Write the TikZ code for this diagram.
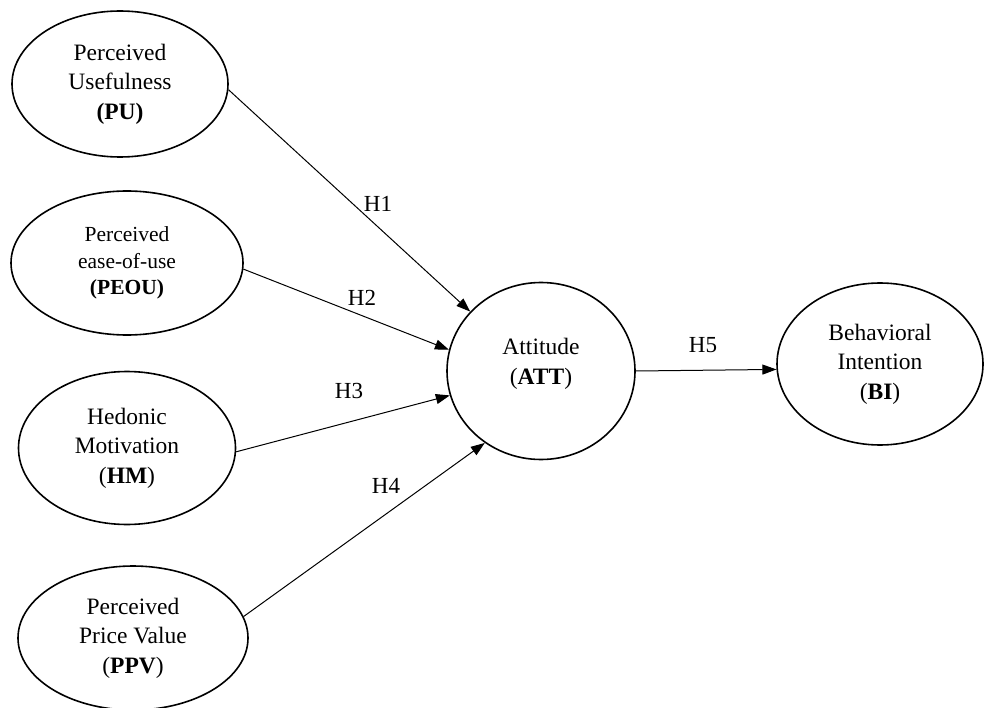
\documentclass[tikz,border=0pt]{standalone}
\usepackage{fontspec}
\setmainfont{Liberation Serif}
\usetikzlibrary{shapes.geometric,arrows.meta}
\begin{document}
\begin{tikzpicture}[x=1pt,y=-1pt,
  construct/.style={draw, ellipse, line width=1.6pt, inner sep=0pt, align=center,
    font=\fontsize{23.5}{29.5}\selectfont},
  path/.style={line width=1pt, -{Triangle[length=14pt,width=10pt]}},
  hyp/.style={font=\fontsize{23}{27}\selectfont}
]
\useasboundingbox (0,0) rectangle (984,708);
\fill[white] (0,0) rectangle (984,708);

\node[construct, minimum width=216pt, minimum height=146pt] (pu) at (120,84)
  {Perceived\\Usefulness\\\textbf{(PU)}};
\node[construct, minimum width=232pt, minimum height=144pt,
  font=\fontsize{21.5}{26.5}\selectfont] (peou) at (127,263)
  {Perceived\\ease-of-use\\\textbf{(PEOU)}};
\node[construct, minimum width=217pt, minimum height=153pt] (hm) at (127,448)
  {Hedonic\\Motivation\\(\textbf{HM})};
\node[construct, minimum width=230pt, minimum height=144pt] (ppv) at (133,638)
  {Perceived\\Price Value\\(\textbf{PPV})};
\node[construct, minimum width=188pt, minimum height=177pt] (att) at (541,371) {};
\node[align=center, font=\fontsize{23.5}{30}\selectfont] (atttext) at (541,364)
  {Attitude\\(\textbf{ATT})};
\node[construct, minimum width=206pt, minimum height=162pt] (bi) at (880,364)
  {Behavioral\\Intention\\(\textbf{BI})};

\draw[path] (pu.-3) -- (att.140);
\draw[path] (peou.-3.5) -- (att.167);
\draw[path] (hm.-2) -- (att.195);
\draw[path] (ppv.11) -- (att.232);
\draw[path] (att.0) -- (bi.183);

\node[hyp] (h1) at (378,204) {H1};
\node[hyp] (h2) at (362,298) {H2};
\node[hyp] (h3) at (349,391) {H3};
\node[hyp] (h4) at (386,486) {H4};
\node[hyp] (h5) at (703,345) {H5};
\end{tikzpicture}
\end{document}
